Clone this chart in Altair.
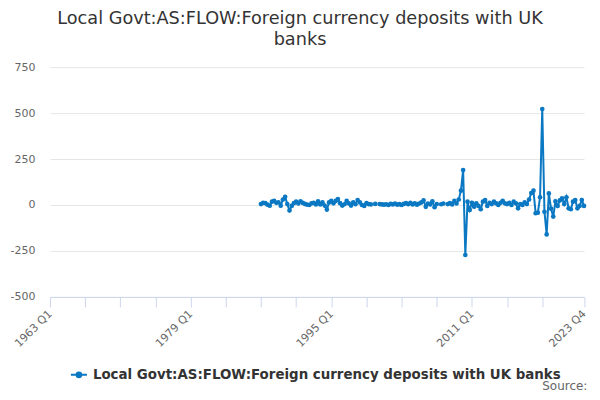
import altair as alt
import pandas as pd

TITLE_LINES = ["Local Govt:AS:FLOW:Foreign currency deposits with UK", "banks"]
SERIES = "Local Govt:AS:FLOW:Foreign currency deposits with UK banks"
SOURCE = "Source:"
BLUE = "#0a78c2"

QUARTERS = [f"{y} Q{q}" for y in range(1963, 2024) for q in range(1, 5)]
TICK_QUARTERS = [f"{y} Q1" for y in range(1963, 2020, 4)] + ["2023 Q4"]
LABELLED = ["1963 Q1", "1979 Q1", "1995 Q1", "2011 Q1", "2023 Q4"]
Y_TICKS = [-500, -250, 0, 250, 500, 750]
DATA_START = "1987 Q1"

VALUES_1987_1998 = [5, 12, 10, 2, -4, 18, 22, 12, 15, -4, 30, 45, 5, -30, -5, 10,
                    18, 8, 20, 12, 6, 2, 0, 9, 12, 3, 20, 3, 14, -3, -25, 14,
                    22, 9, 22, 32, 10, -3, 4, 22, 9, -3, 14, 4, 27, 14, 0]
VALUES_1998_2010 = [-5, 10, 5, 3, None, 6, None, 5, 3, 2, 4, 0, 6, 3, 8, 2,
                    5, 0, 6, 10, 4, 12, 3, 9, 2, 8, 14, 25, -10, 8, 3, 20,
                    -12, 5, None, 4, 8, None, 5, 10, 3, 22, 8, 30, 78, 190, -272]
VALUES_2010_2016 = [18, -27, 12, -9, 9, -5, -23, 18, 27, -5, 12, 5, 18, 9, 0, 12,
                    23, 9, 5, 12, 0, 18, 9, -18, 5, 0]
VALUES_2017_2023 = [15, 5, 30, 65, 78, -45, -42, 42, 522, -37, -160, 63, -20, -63,
                    20, -5, 25, 36, 5, 42, -18, -23, 18, 27, -18, -5, 27, -5]

values = VALUES_1987_1998 + VALUES_1998_2010 + VALUES_2010_2016 + VALUES_2017_2023
start = QUARTERS.index(DATA_START)
df = pd.DataFrame({
    "quarter": QUARTERS[start:start + len(values)],
    "value": values,
    "series": [SERIES] * len(values),
})

FONT = "DejaVu Sans"
label_list = "[" + ",".join(f"'{q}'" for q in LABELLED) + "]"

line = alt.Chart(df).mark_line(
    strokeWidth=2,
    point=alt.OverlayMarkDef(filled=True, size=22, color=BLUE),
).encode(
    x=alt.X(
        "quarter:O",
        scale=alt.Scale(type="point", domain=QUARTERS, padding=0),
        axis=alt.Axis(
            values=TICK_QUARTERS,
            labelExpr=f"indexof({label_list}, datum.value) >= 0 ? datum.value : ''",
            title=None,
            labelAngle=-45,
            labelAlign="right",
            labelBaseline="middle",
            labelFont=FONT,
            labelFontSize=11,
            labelColor="#666666",
            labelPadding=5,
            tickSize=10,
            tickColor="#ccd6eb",
            domainColor="#ccd6eb",
            grid=False,
        ),
    ),
    y=alt.Y(
        "value:Q",
        scale=alt.Scale(domain=[-500, 750], nice=False, zero=False),
        axis=alt.Axis(
            values=Y_TICKS,
            labelExpr="datum.value < 0 ? '-' + abs(datum.value) : '' + datum.value",
            title=None,
            grid=True,
            gridColor="#e6e6e6",
            domain=False,
            ticks=False,
            tickSize=0,
            labelPadding=15,
            labelFont=FONT,
            labelFontSize=11,
            labelColor="#666666",
        ),
    ),
    color=alt.Color(
        "series:N",
        scale=alt.Scale(domain=[SERIES], range=[BLUE]),
        legend=alt.Legend(
            title=None,
            orient="none",
            legendX=20,
            legendY=299,
            padding=0,
            symbolType="M-1,0L1,0M-0.3,0A0.3,0.3,0,1,0,0.3,0A0.3,0.3,0,1,0,-0.3,0Z",
            symbolSize=256,
            symbolStrokeWidth=2,
            symbolFillColor=BLUE,
            labelFont=FONT,
            labelFontSize=13.4,
            labelFontWeight="bold",
            labelColor="#333333",
            labelOffset=5,
            labelLimit=600,
        ),
    ),
)

src = alt.Chart(pd.DataFrame({"t": [SOURCE]})).mark_text(
    align="right", baseline="alphabetic", font=FONT, fontSize=12, color="#666666"
).encode(x=alt.value(538), y=alt.value(323), text="t:N")

chart = alt.layer(line, src).properties(
    width=534.6,
    height=230,
    padding={"left": 42, "top": 59, "right": 8, "bottom": 95},
    autosize=alt.AutoSizeParams(type="none"),
    title=alt.TitleParams(
        text=TITLE_LINES,
        font=FONT,
        fontSize=17.7,
        fontWeight="normal",
        color="#333333",
        anchor="middle",
        dx=-17,
        offset=12,
        lineHeight=21,
    ),
).configure_view(stroke=None)

chart.save("out.html", embed_options={"renderer": "svg", "actions": False})
